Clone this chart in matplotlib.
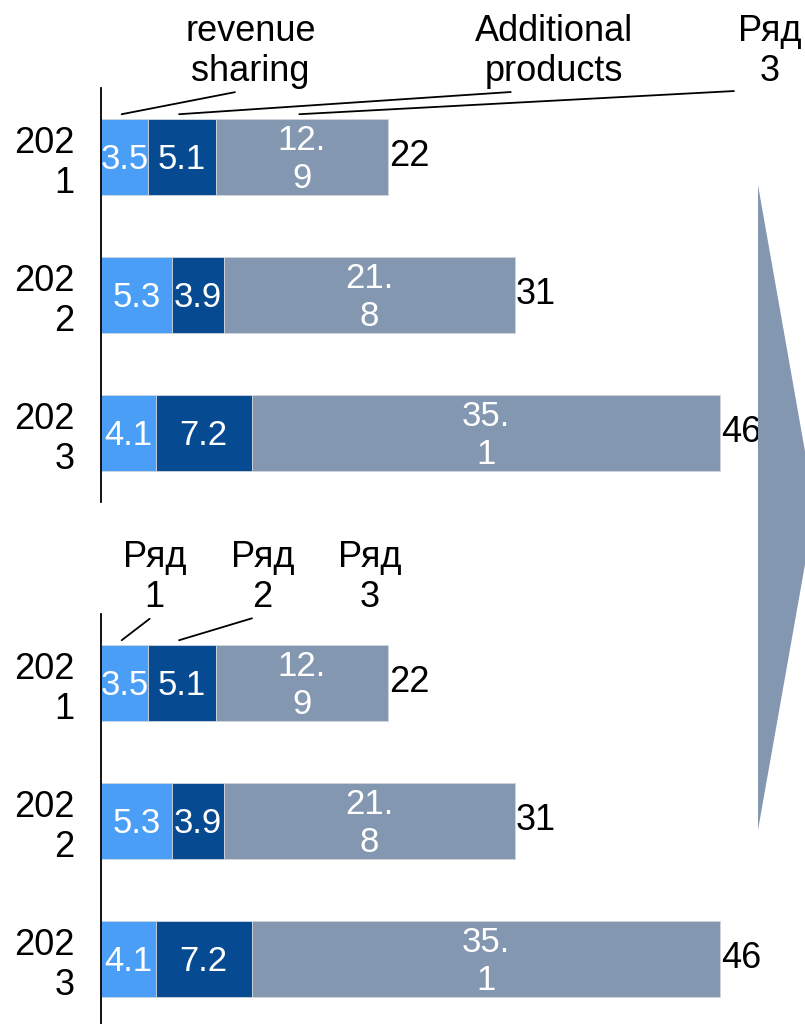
import matplotlib.pyplot as plt
from matplotlib.patches import Polygon

plt.rcParams['font.family'] = ['Liberation Sans', 'DejaVu Sans']

## Chart data
years = ['2021', '2022', '2023']
series_1 = [3.5, 5.3, 4.1]
series_2 = [5.1, 3.9, 7.2]
series_3 = [12.9, 21.8, 35.1]
names_top = ['revenue\nsharing', 'Additional\nproducts', 'Ряд\n3']
names_bottom = ['Ряд\n1', 'Ряд\n2', 'Ряд\n3']

colors = ['#4a9ef5', '#064a92', '#8497b0']
W, H = 805, 1024
FS = 26
FS_IN = 25
LS = 1.2


def wrap_year(y):
    return y[:3] + '\n' + y[3:]


def draw_chart(ax, names, label_x, with_lines):
    series = [series_1, series_2, series_3]
    rows = list(range(len(years)))
    left = [0.0] * len(years)
    for k, vals in enumerate(series):
        ax.barh(rows, vals, left=left, height=0.55, color=colors[k],
                edgecolor='#d0d6de', linewidth=0.6)
        for i, v in enumerate(vals):
            s = '{:.1f}'.format(v)
            if k == 2:
                s = s.replace('.', '.\n')
            ax.text(left[i] + v / 2, i + 0.02, s, ha='center', va='center',
                    color='white', fontsize=FS_IN, linespacing=LS)
        left = [a + b for a, b in zip(left, vals)]

    for i, tot in enumerate(left):
        ax.text(tot + 0.05, i, '{:.0f}'.format(tot), ha='left', va='center',
                fontsize=FS, color='black')

    ## series name callouts above the first bar
    starts = [0.0, series_1[0], series_1[0] + series_2[0]]
    for k, name in enumerate(names):
        mid = starts[k] + series[k][0] / 2 - 0.2
        if with_lines[k]:
            ax.annotate(name, xy=(mid, -0.31), xytext=(label_x[k], -0.765),
                        ha='center', va='center', fontsize=FS,
                        linespacing=LS, annotation_clip=False,
                        arrowprops=dict(arrowstyle='-', color='black', lw=1.3,
                                        relpos=(0.5, 0.0), shrinkA=1, shrinkB=0))
        else:
            ax.text(label_x[k], -0.765, name, ha='center', va='center',
                    fontsize=FS, linespacing=LS, clip_on=False)

    ax.set_yticks(rows)
    ax.set_yticklabels([wrap_year(y) for y in years], fontsize=FS,
                       linespacing=LS, multialignment='right')
    ax.tick_params(axis='y', length=0, pad=19)
    ax.set_xticks([])
    ax.set_xlim(0, (W - 101) / 13.35)
    ax.set_ylim(2.5, -0.5)
    for sp in ['top', 'right', 'bottom']:
        ax.spines[sp].set_visible(False)
    ax.spines['left'].set_linewidth(1.3)


fig = plt.figure(figsize=(W / 100, H / 100), dpi=100)

ax1 = fig.add_axes([101 / W, 1 - 502 / H, (W - 101) / W, 414 / H])
draw_chart(ax1, names_top, [11.2, 33.9, 50.1], [True, True, True])

ax2 = fig.add_axes([101 / W, 1 - 1028 / H, (W - 101) / W, 414 / H])
draw_chart(ax2, names_bottom, [4.0, 12.1, 20.1], [True, True, False])

## big arrow on the right
pts = [(758, 185), (758, 830), (815, 508)]
arrow = Polygon([(x / W, 1 - y / H) for x, y in pts], closed=True,
                transform=fig.transFigure, facecolor='#8497b0',
                edgecolor='none')
fig.patches.append(arrow)

fig.savefig('out.png', dpi=100)
